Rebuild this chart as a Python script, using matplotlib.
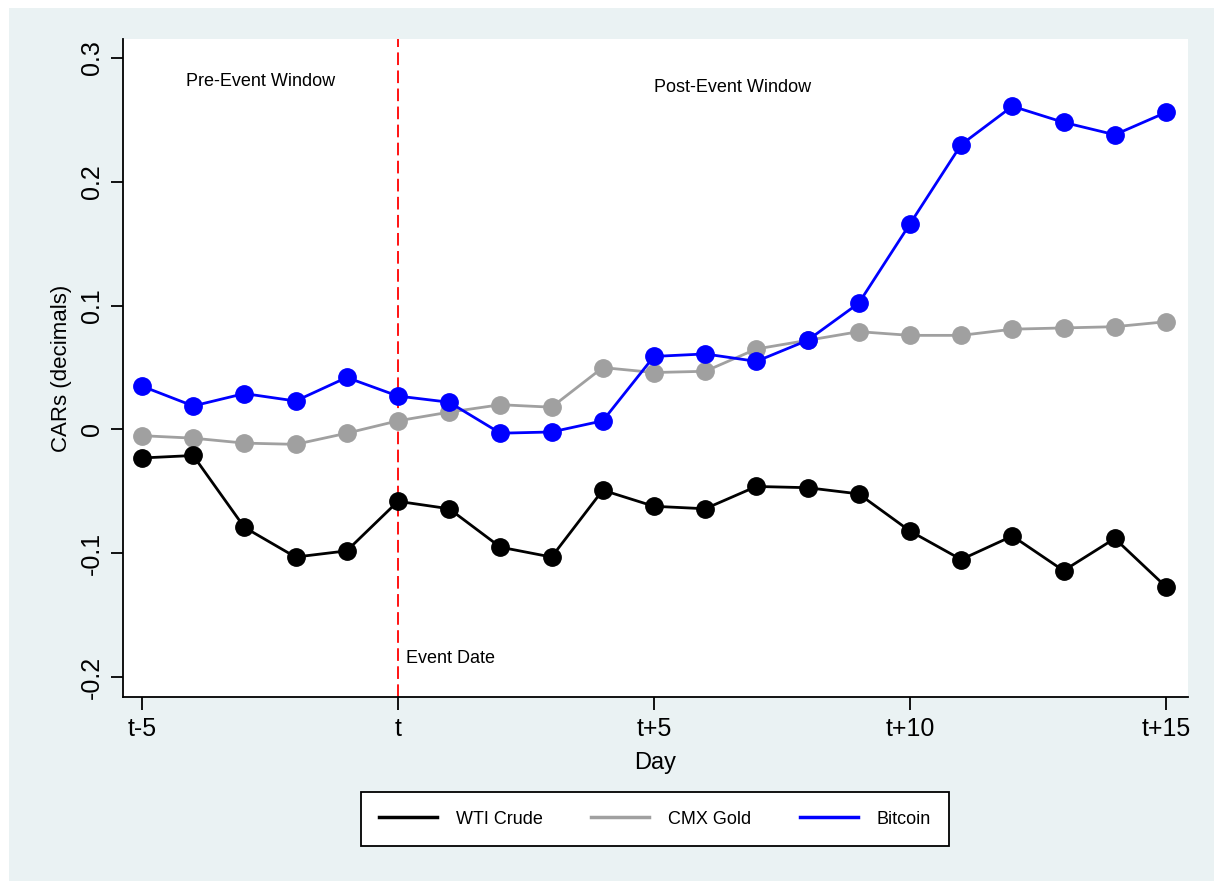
import matplotlib.pyplot as plt
import matplotlib.patches as mpatches
import numpy as np

plt.rcParams['font.family'] = ['Liberation Sans', 'DejaVu Sans']

# event days and CARs
days = np.arange(-5, 16)
wti = [-0.023, -0.021, -0.079, -0.103, -0.098, -0.058, -0.064, -0.095, -0.103, -0.049,
       -0.062, -0.064, -0.046, -0.047, -0.052, -0.082, -0.105, -0.086, -0.114, -0.088, -0.127]
gold = [-0.005, -0.007, -0.011, -0.012, -0.003, 0.007, 0.014, 0.020, 0.018, 0.050,
        0.046, 0.047, 0.065, 0.072, 0.079, 0.076, 0.076, 0.081, 0.082, 0.083, 0.087]
btc = [0.035, 0.019, 0.029, 0.023, 0.042, 0.027, 0.022, -0.003, -0.002, 0.007,
       0.059, 0.061, 0.055, 0.072, 0.102, 0.166, 0.230, 0.261, 0.248, 0.238, 0.256]
xticks = [-5, 0, 5, 10, 15]
xlabels = ['t-5', 't', 't+5', 't+10', 't+15']
yticks = [-0.2, -0.1, 0, 0.1, 0.2, 0.3]
ylabels = ['-0.2', '-0.1', '0', '0.1', '0.2', '0.3']

fig = plt.figure(figsize=(12.14, 8.81), dpi=100, facecolor='white')
# light outer region like stata's graph region
fig.patches.append(mpatches.Rectangle((9/1214, 0), 1, 873/881, transform=fig.transFigure,
                                      facecolor='#EAF2F3', edgecolor='none', zorder=-10))

ax = fig.add_axes([123/1214, 1-697/881, (1188-123)/1214, (697-39)/881])
ax.set_facecolor('white')

ax.axvline(0, color='red', lw=1.3, dashes=(7, 3), zorder=1)

ax.plot(days, wti, color='black', lw=2, marker='o', ms=12.5, label='WTI Crude', zorder=3)
ax.plot(days, gold, color='#A0A0A0', lw=2, marker='o', ms=12.5, label='CMX Gold', zorder=2)
ax.plot(days, btc, color='#0000FF', lw=2, marker='o', ms=12.5, label='Bitcoin', zorder=4)

ax.text(-2.68, 0.281, 'Pre-Event Window', ha='center', va='center', fontsize=13)
ax.text(6.54, 0.276, 'Post-Event Window', ha='center', va='center', fontsize=13)
ax.text(0.16, -0.185, 'Event Date', ha='left', va='center', fontsize=13)

ax.set_xlim(-5.37, 15.43)
ax.set_ylim(-0.216, 0.3153)
ax.set_xticks(xticks)
ax.set_xticklabels(xlabels, fontsize=18)
ax.set_yticks(yticks)
ax.set_yticklabels(ylabels, fontsize=18, rotation=90, va='center')
ax.tick_params(direction='out', length=9, width=1.3, pad=4.5)
ax.tick_params(axis='x', pad=5.5)
for s in ['top', 'right']:
    ax.spines[s].set_visible(False)
for s in ['left', 'bottom']:
    ax.spines[s].set_linewidth(1.3)

ax.set_xlabel('Day', fontsize=17, labelpad=8)
ax.set_ylabel('CARs (decimals)', fontsize=16, labelpad=6)

leg = fig.legend(handles=[plt.Line2D([], [], color='black', lw=2.5),
                          plt.Line2D([], [], color='#A0A0A0', lw=2.5),
                          plt.Line2D([], [], color='#0000FF', lw=2.5)],
                 labels=['WTI Crude', 'CMX Gold', 'Bitcoin'],
                 loc='center', bbox_to_anchor=(655/1214, 1-819/881), ncol=3,
                 fontsize=13, frameon=True, fancybox=False, edgecolor='black',
                 framealpha=1, handlelength=3.2, columnspacing=2.7, handletextpad=1.05,
                 borderpad=1.0)
leg.get_frame().set_linewidth(1.3)

fig.savefig('out.png', dpi=100, facecolor=fig.get_facecolor())
